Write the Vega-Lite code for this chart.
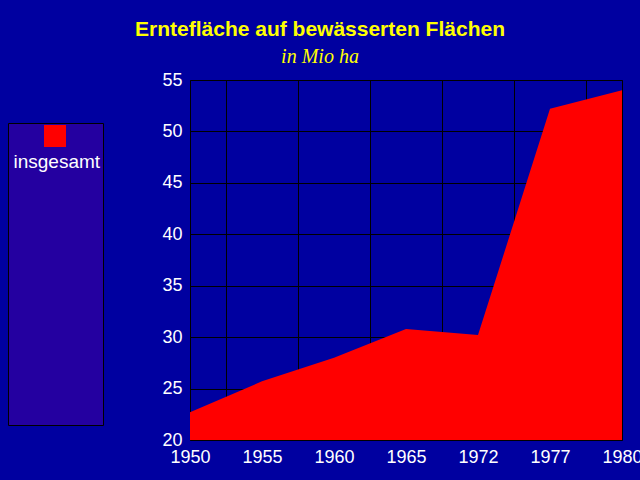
{
  "$schema": "https://vega.github.io/schema/vega-lite/v6.json",
  "width": 432,
  "height": 360,
  "autosize": {"type": "none"},
  "padding": {"left": 190, "top": 80, "right": 18, "bottom": 40},
  "background": "#0000A0",
  "config": {
    "view": {"stroke": "#000000", "strokeWidth": 1, "fill": "#0000A0"}
  },
  "title": {
    "text": "Erntefläche auf bewässerten Flächen",
    "subtitle": "in Mio ha",
    "color": "#FFFF00",
    "font": "Liberation Sans",
    "fontSize": 21,
    "fontWeight": "bold",
    "subtitleColor": "#FFFF00",
    "subtitleFont": "Liberation Serif",
    "subtitleFontSize": 20,
    "subtitleFontStyle": "italic",
    "subtitleFontWeight": "normal",
    "subtitlePadding": 7,
    "anchor": "middle",
    "frame": "group",
    "dx": -86,
    "offset": 4
  },
  "data": {
    "values": [
      {"year": "1950", "value": 22.7, "serie": "insgesamt"},
      {"year": "1955", "value": 25.7, "serie": "insgesamt"},
      {"year": "1960", "value": 28.0, "serie": "insgesamt"},
      {"year": "1965", "value": 30.8, "serie": "insgesamt"},
      {"year": "1972", "value": 30.2, "serie": "insgesamt"},
      {"year": "1977", "value": 52.2, "serie": "insgesamt"},
      {"year": "1980", "value": 54.0, "serie": "insgesamt"}
    ]
  },
  "transform": [{"window": [{"op": "row_number", "as": "idx"}]}],
  "mark": {"type": "area", "clip": true, "interpolate": "linear"},
  "encoding": {
    "x": {
      "field": "idx",
      "type": "quantitative",
      "scale": {"domain": [1, 7], "nice": false, "zero": false},
      "axis": {
        "title": null,
        "orient": "bottom",
        "values": [1, 1.5, 2, 2.5, 3, 3.5, 4, 4.5, 5, 5.5, 6, 6.5, 7],
        "labelExpr": "datum.value % 1 === 0 ? ['1950','1955','1960','1965','1972','1977','1980'][datum.value - 1] : ''",
        "grid": true,
        "gridColor": "#000000",
        "gridWidth": 1,
        "gridOpacity": {"condition": {"test": "datum.value % 1 !== 0", "value": 1}, "value": 0},
        "ticks": false,
        "tickSize": 0,
        "domain": false,
        "labelColor": "#FFFFFF",
        "labelFont": "Liberation Sans",
        "labelFontSize": 18,
        "labelPadding": 8,
        "labelFlush": false,
        "labelOverlap": false
      }
    },
    "y": {
      "field": "value",
      "type": "quantitative",
      "scale": {"domain": [20, 55], "nice": false, "zero": false},
      "axis": {
        "title": null,
        "values": [20, 25, 30, 35, 40, 45, 50, 55],
        "grid": true,
        "gridColor": "#000000",
        "gridWidth": 1,
        "gridOpacity": 1,
        "ticks": false,
        "tickSize": 0,
        "domain": false,
        "labelColor": "#FFFFFF",
        "labelFont": "Liberation Sans",
        "labelFontSize": 18,
        "labelPadding": 8,
        "labelFlush": false,
        "labelOverlap": false
      }
    },
    "color": {
      "field": "serie",
      "type": "nominal",
      "scale": {"range": ["#FF0000"]},
      "legend": {
        "orient": "none",
        "legendX": -182,
        "legendY": 43,
        "direction": "vertical",
        "fillColor": "#2400A0",
        "strokeColor": "#000000",
        "padding": 2,
        "symbolType": "square",
        "symbolSize": 484,
        "symbolStrokeWidth": 0,
        "symbolOpacity": 1,
        "symbolOffset": 34,
        "labelColor": "#FFFFFF",
        "labelFont": "Liberation Sans",
        "labelFontSize": 19,
        "title": "\u00a0\u00a0\u00a0\u00a0\u00a0\u00a0\u00a0\u00a0",
        "titleOrient": "bottom",
        "titleAnchor": "start",
        "titleFontSize": 39,
        "titlePadding": 212,
        "encoding": {
          "labels": {
            "x": {"value": 3.5},
            "y": {"value": 43},
            "baseline": {"value": "alphabetic"},
            "align": {"value": "left"}
          }
        }
      }
    }
  }
}
